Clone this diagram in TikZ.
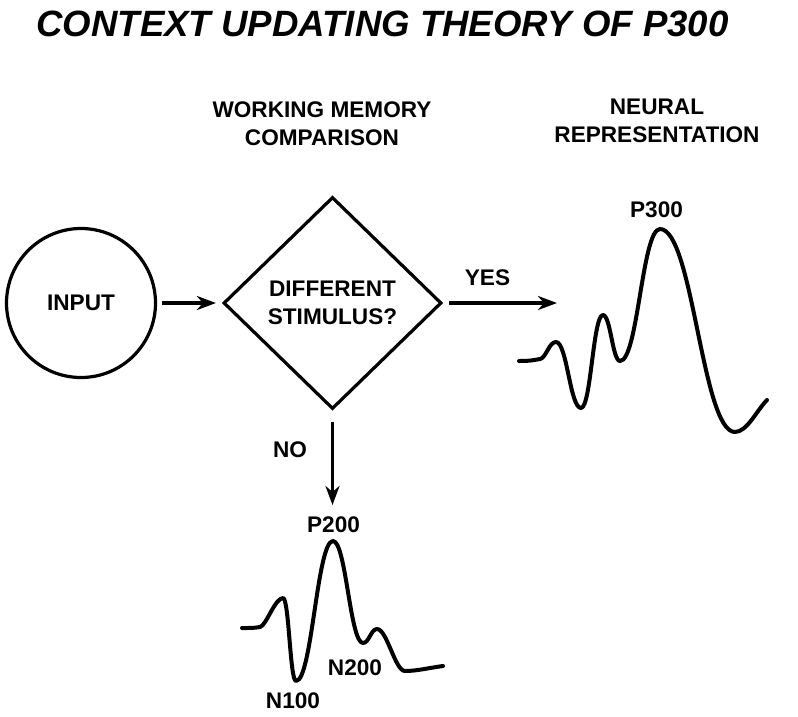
\documentclass[tikz,border=0pt]{standalone}
\usepackage{fontspec}
\setmainfont{Liberation Sans}
\usetikzlibrary{arrows.meta,shapes.geometric}

\begin{document}
\begin{tikzpicture}[x=1pt,y=-1pt,
	txt/.style={font=\bfseries\fontsize{22.6}{28}\selectfont, align=center, inner sep=0pt},
	flow/.style={line width=3.5pt, -{Stealth[length=19pt,width=14pt,inset=6pt]}},
	wave/.style={line width=4pt, line cap=round, line join=round}]
	\useasboundingbox (0,0) rectangle (798,716);
	\node[font=\bfseries\itshape\fontsize{36.6}{40}\selectfont, inner sep=0pt, anchor=base] (title) at (382.5,36) {CONTEXT UPDATING THEORY OF P300};
	\node[txt] (memory) at (322,123.5) {WORKING MEMORY\\COMPARISON};
	\node[txt] (neural) at (657,120.5) {NEURAL\\REPRESENTATION};
	\node[txt, circle, draw, line width=3.2pt, minimum size=149pt] (input) at (81,303) {INPUT};
	\node[txt, diamond, draw, line width=3.2pt, minimum width=218pt, minimum height=212pt] (compare) at (332.5,303) {DIFFERENT\\STIMULUS?};
	\coordinate (yestip) at (557,303);
	\coordinate (notip) at (332.5,505);
	\draw[flow, shorten <=5pt, shorten >=6pt] (input) -- (compare);
	\draw[flow, shorten <=6pt] (compare) -- (yestip);
	\draw[flow, shorten <=11pt] (compare) -- (notip);
	\node[txt] (yes) at (487.5,278) {YES};
	\node[txt] (no) at (290,450) {NO};
	\draw[wave] (519,361) .. controls +(12,0) and +(-6,1) .. (540,359)
		.. controls +(6,-1) and +(-7,0) .. (556,342)
		.. controls +(11,0) and +(-11,0) .. (581,408)
		.. controls +(10,0) and +(-10,0) .. (603,315)
		.. controls +(7.5,0) and +(-7.5,0) .. (620,361)
		.. controls +(18,0) and +(-18,0) .. (660,229)
		.. controls +(33,0) and +(-33,0) .. (735,432)
		.. controls +(12,0) and +(-10,10) .. (767,400);
	\draw[wave] (242,628) .. controls +(10,0) and +(-6,1) .. (260,627)
		.. controls +(6,-1) and +(-8,0) .. (283,598)
		.. controls +(6,0) and +(-6,0) .. (296,681)
		.. controls +(16,0) and +(-16,0) .. (333,541)
		.. controls +(13,0) and +(-13,0) .. (363,643)
		.. controls +(6,0) and +(-6,0) .. (377,629)
		.. controls +(10,0) and +(-10,0) .. (405,671)
		.. controls +(12,0) and +(-15,2) .. (443,666);
	\foreach \n/\x/\y/\t in {p300/656.5/210/P300, p200/333.5/524.5/P200, n100/293/701/N100, n200/355/668/N200}
	{
		\node[txt] (\n) at (\x,\y) {\t};
	}
\end{tikzpicture}
\end{document}
